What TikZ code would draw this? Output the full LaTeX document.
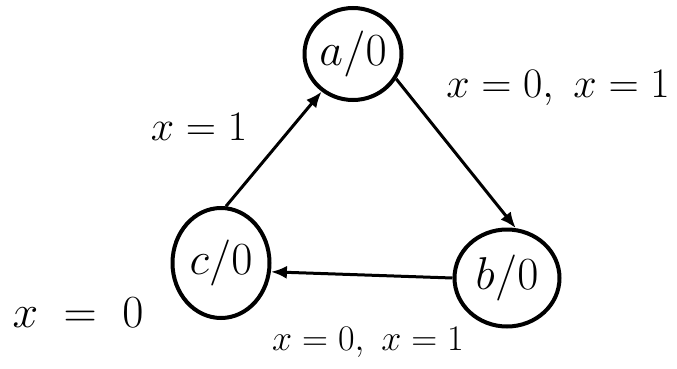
\documentclass[tikz,border=0pt]{standalone}
\usepackage{fix-cm}
\usetikzlibrary{shapes.geometric,arrows.meta}

\begin{document}
\begin{tikzpicture}[
    x=1pt, y=-1pt,
    state/.style={ellipse, draw=black, line width=4pt, minimum width=97pt, minimum height=92pt,
                  inner sep=0pt, font=\fontsize{46}{52}\selectfont},
    edge/.style={draw=black, line width=3pt, -{Latex[length=16pt, width=13pt]}},
    lab/.style={inner sep=0pt, font=\fontsize{42}{48}\selectfont},
  ]
  \useasboundingbox (0,0) rectangle (677,369);

  % Zustände mit Ausgabe
  \node[state] (a) at (353, 54) {$a/0$};
  \node[state, minimum width=105pt, minimum height=97pt] (b) at (507, 278) {$b/0$};
  \node[state, minimum height=110pt] (c) at (221, 263) {$c/0$};

  % Übergänge
  \draw[edge] (c.85) -- (a);
  \draw[edge] (a.-30) -- (b.80);
  \draw[edge] (b.west) -- (c.-10);

  % Beschriftung der Übergänge
  \node[lab] (l1) at (199, 127) {$x=1$};
  \node[lab] (l2) at (558, 88) {$x=0,\ x=1$};
  \node[lab, font=\fontsize{46}{52}\selectfont] (l3) at (78, 313) {$x\;=\;0$};
  \node[lab, font=\fontsize{36}{42}\selectfont] (l4) at (368, 342) {$x=0,\ x=1$};

\end{tikzpicture}
\end{document}
